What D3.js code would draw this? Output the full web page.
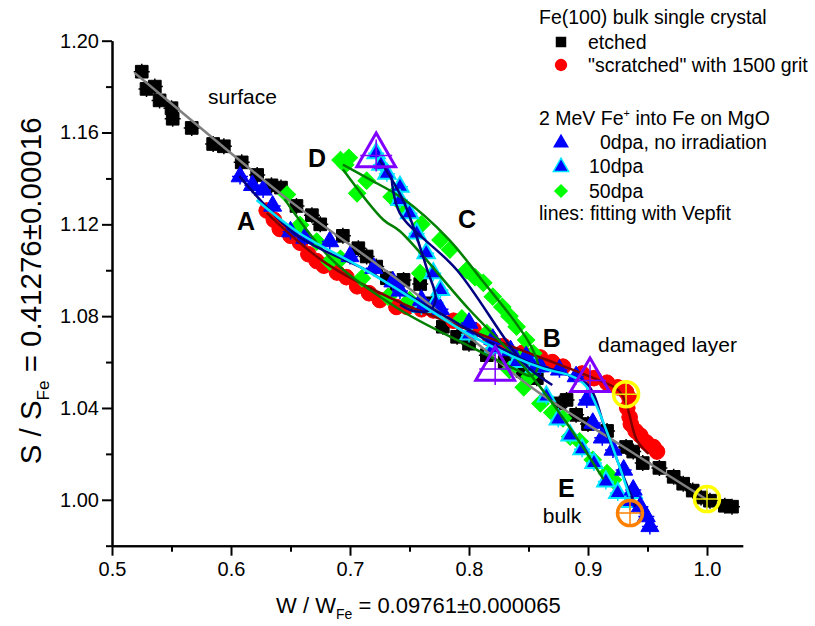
<!DOCTYPE html>
<html>
<head>
<meta charset="utf-8">
<script src="https://cdn.jsdelivr.net/npm/d3@7"></script>
<style>
  body { margin: 0; background: #fff; }
  svg text { font-family: "Liberation Sans", Arial, sans-serif; }
</style>
</head>
<body>
<div id="chart"></div>
<script>
// S-W plot of positron annihilation, Fe samples

// Axis ranges and ticks
const xDomain = [0.5, 1.03];
const yDomain = [0.98, 1.20];
const xMajor = [0.5, 0.6, 0.7, 0.8, 0.9, 1.0];
const xMinor = [0.55, 0.65, 0.75, 0.85, 0.95];
const yMajor = [1.00, 1.04, 1.08, 1.12, 1.16, 1.20];
const yMinor = [0.98, 1.02, 1.06, 1.10, 1.14, 1.18];

// Fe(100) bulk, etched (black squares)
const etched = [
  [0.525, 1.1865], [0.529, 1.179], [0.536, 1.180], [0.540, 1.174], [0.550, 1.1706], [0.551, 1.166],
  [0.567, 1.162], [0.585, 1.155], [0.594, 1.154], [0.609, 1.147], [0.622, 1.1415], [0.634, 1.137],
  [0.642, 1.136], [0.655, 1.128], [0.668, 1.124], [0.675, 1.120], [0.694, 1.115], [0.707, 1.1096],
  [0.714, 1.106], [0.722, 1.1016], [0.731, 1.0965], [0.739, 1.094], [0.745, 1.0958], [0.759, 1.094],
  [0.769, 1.0856], [0.778, 1.0754], [0.790, 1.071], [0.800, 1.068], [0.815, 1.063], [0.830, 1.060],
  [0.845, 1.056], [0.857, 1.053], [0.876, 1.042], [0.882, 1.0435], [0.890, 1.037], [0.900, 1.033],
  [0.916, 1.030], [0.932, 1.023], [0.938, 1.021], [0.946, 1.016], [0.960, 1.0139], [0.972, 1.010],
  [0.980, 1.007], [0.988, 1.004], [0.995, 1.001], [1.0025, 0.9996], [1.015, 0.9974], [1.021, 0.9970]
];

// Fe(100) bulk, "scratched" (red circles)
const scratched = [
  [0.630, 1.126], [0.636, 1.122], [0.641, 1.118], [0.650, 1.115], [0.658, 1.112], [0.665, 1.107],
  [0.672, 1.104], [0.678, 1.102], [0.689, 1.099], [0.697, 1.097], [0.706, 1.093], [0.716, 1.090],
  [0.725, 1.087], [0.739, 1.084], [0.748, 1.084], [0.760, 1.083], [0.770, 1.0825], [0.787, 1.078],
  [0.804, 1.074], [0.818, 1.070], [0.829, 1.067], [0.845, 1.064], [0.860, 1.062], [0.870, 1.060],
  [0.879, 1.058], [0.895, 1.055], [0.905, 1.053], [0.916, 1.051], [0.925, 1.049], [0.932, 1.047],
  [0.935, 1.044], [0.933, 1.040], [0.935, 1.036], [0.936, 1.033], [0.940, 1.030], [0.944, 1.028],
  [0.949, 1.025], [0.955, 1.023], [0.958, 1.021]
];

// 2 MeV Fe+ into Fe on MgO, 0 dpa (blue triangles)
const dpa0 = [
  [0.6076, 1.1408], [0.618, 1.137], [0.627, 1.135], [0.635, 1.128], [0.650, 1.1168], [0.662, 1.114],
  [0.683, 1.1125], [0.700, 1.106], [0.720, 1.1009], [0.736, 1.095], [0.742, 1.091], [0.760, 1.087],
  [0.776, 1.083], [0.800, 1.077], [0.820, 1.070], [0.835, 1.065], [0.848, 1.0624], [0.860, 1.058],
  [0.876, 1.0566], [0.890, 1.0537], [0.899, 1.0435], [0.904, 1.0334], [0.912, 1.027], [0.921, 1.0217],
  [0.930, 1.013], [0.938, 1.0043], [0.944, 0.997], [0.949, 0.9927], [0.952, 0.9884]
];

// 10 dpa (blue triangles, cyan edge)
const dpa10 = [
  [0.722, 1.151], [0.726, 1.146], [0.731, 1.142], [0.742, 1.1364], [0.742, 1.1306], [0.750, 1.1248],
  [0.756, 1.116], [0.764, 1.1074], [0.770, 1.0987], [0.776, 1.0914], [0.772, 1.086], [0.760, 1.084],
  [0.800, 1.072], [0.820, 1.066], [0.840, 1.060], [0.855, 1.058], [0.865, 1.045], [0.875, 1.035],
  [0.885, 1.028], [0.895, 1.022], [0.905, 1.016], [0.915, 1.008], [0.925, 1.003], [0.935, 0.999],
  [0.938, 1.003]
];

// 50 dpa (green diamonds)
const dpa50 = [
  [0.692, 1.148], [0.696, 1.146], [0.699, 1.149], [0.706, 1.1335], [0.714, 1.139], [0.735, 1.132],
  [0.745, 1.128], [0.760, 1.120], [0.776, 1.1132], [0.784, 1.109], [0.798, 1.100], [0.805, 1.097],
  [0.812, 1.0945], [0.820, 1.0885], [0.828, 1.084], [0.834, 1.080], [0.840, 1.0754], [0.848, 1.0696],
  [0.854, 1.0638], [0.851, 1.0537], [0.846, 1.049], [0.860, 1.042], [0.870, 1.038], [0.879, 1.0355],
  [0.885, 1.0275], [0.893, 1.0254], [0.904, 1.0174], [0.916, 1.0116], [0.921, 1.0087],
  [0.647, 1.133], [0.658, 1.1197], [0.672, 1.1125], [0.683, 1.1037], [0.692, 1.105], [0.710, 1.0965],
  [0.732, 1.0885], [0.750, 1.087], [0.759, 1.0987], [0.794, 1.079], [0.815, 1.0726], [0.834, 1.0566],
  [0.842, 1.062]
];

// Vepfit fitting curves
const fitEtched = [[0.519, 1.186], [0.600, 1.151], [0.650, 1.130], [0.745, 1.094], [0.800, 1.071], [0.855, 1.048], [0.930, 1.023], [1.0, 1.0]];
const fitScratched = [[0.630, 1.125], [0.680, 1.103], [0.742, 1.086], [0.800, 1.074], [0.860, 1.062], [0.900, 1.054], [0.925, 1.048], [0.932, 1.042], [0.941, 1.026], [0.951, 1.020]];
const fitDpa0 = [[0.607, 1.141], [0.655, 1.1154], [0.714, 1.100], [0.736, 1.093], [0.780, 1.080], [0.820, 1.068], [0.850, 1.060], [0.880, 1.055], [0.900, 1.050], [0.915, 1.030], [0.930, 1.010], [0.940, 0.997]];
const fitDpa10a = [[0.6215, 1.1306], [0.658, 1.116], [0.708, 1.1016], [0.739, 1.092], [0.798, 1.0726], [0.837, 1.0624], [0.862, 1.0573], [0.887, 1.0537], [0.899, 1.049], [0.935, 1.0014]];
const fitDpa10b = [[0.725, 1.148], [0.745, 1.130], [0.765, 1.100], [0.772, 1.088], [0.768, 1.083], [0.755, 1.082], [0.742, 1.085]];
const fitDpa10c = [[0.735, 1.140], [0.742, 1.1248], [0.790, 1.100], [0.846, 1.0595], [0.870, 1.050]];
const fitDpa50a = [[0.645, 1.131], [0.685, 1.1045], [0.742, 1.0828], [0.800, 1.067], [0.840, 1.0566], [0.852, 1.054], [0.858, 1.058], [0.852, 1.067], [0.838, 1.078], [0.812, 1.095], [0.782, 1.114], [0.745, 1.131], [0.715, 1.140], [0.694, 1.146]];
const fitDpa50b = [[0.694, 1.144], [0.728, 1.122], [0.742, 1.117], [0.800, 1.083], [0.846, 1.058], [0.880, 1.035], [0.913, 1.009]];

// Layer (S,W) markers
const layerTriangles = [[0.722, 1.150], [0.822, 1.057], [0.9017, 1.052]];
const yellowRings = [[0.932, 1.046], [1.0, 1.0003]];
const orangeRings = [[0.9353, 0.9942]];

// Annotations
const letters = [["A", 0.605, 1.1176], ["B", 0.862, 1.0666], ["C", 0.7908, 1.1184], ["D", 0.6647, 1.145], ["E", 0.8748, 1.0013]];
const words = [["surface", 0.5807, 1.1724], ["damaged layer", 0.9084, 1.0645], ["bulk", 0.862, 0.990]];

const margin = {left: 112, top: 40.7, right: 72.3, bottom: 80.3};
const W = 815, H = 626;
const width = W - margin.left - margin.right;
const height = H - margin.top - margin.bottom;

const svg = d3.select("#chart").append("svg")
  .attr("width", W)
  .attr("height", H);
const g = svg.append("g")
  .attr("transform", "translate(" + margin.left + "," + margin.top + ")");

const x = d3.scaleLinear().domain(xDomain).range([0, width]);
const y = d3.scaleLinear().domain(yDomain).range([height, 0]);

// Axes: major ticks with labels, minor ticks without
function styleAxis(sel) {
  sel.selectAll("path").attr("stroke", "#000").attr("stroke-width", 2);
  sel.selectAll("line").attr("stroke", "#000").attr("stroke-width", 2);
  sel.selectAll("text").attr("font-size", 20).attr("fill", "#000")
     .style("font-family", "'Liberation Sans', Arial, sans-serif");
}
g.append("g").attr("transform", "translate(0," + height + ")")
  .call(d3.axisBottom(x).tickValues(xMinor).tickSize(6).tickFormat("").tickSizeOuter(0))
  .call(styleAxis);
g.append("g").attr("transform", "translate(0," + height + ")")
  .call(d3.axisBottom(x).tickValues(xMajor).tickSize(10).tickPadding(6).tickFormat(d3.format(".1f")).tickSizeOuter(0))
  .call(styleAxis);
g.append("g")
  .call(d3.axisLeft(y).tickValues(yMinor).tickSize(6).tickFormat("").tickSizeOuter(0))
  .call(styleAxis);
g.append("g")
  .call(d3.axisLeft(y).tickValues(yMajor).tickSize(10).tickPadding(3).tickFormat(d3.format(".2f")).tickSizeOuter(0))
  .call(styleAxis);

// Axis titles
const xt = svg.append("text")
  .attr("x", margin.left + x(0.7575)).attr("y", 613)
  .attr("text-anchor", "middle").attr("font-size", 22);
xt.append("tspan").text("W / W");
xt.append("tspan").attr("font-size", 14).attr("dy", 6).text("Fe");
xt.append("tspan").attr("dy", -6).text(" = 0.09761\u00b10.000065");

const yt = svg.append("text")
  .attr("transform", "translate(41," + (margin.top + y(1.091)) + ") rotate(-90)")
  .attr("text-anchor", "middle").attr("font-size", 29.5);
yt.append("tspan").text("S / S");
yt.append("tspan").attr("font-size", 17).attr("dy", 8).text("Fe");
yt.append("tspan").attr("dy", -8).text(" = 0.41276\u00b10.00016");

const line = d3.line().x(d => x(d[0])).y(d => y(d[1])).curve(d3.curveCatmullRom);

// Error bars to give the data points their fuzzy look
function drawSeries(data, color, symbol, size, rotate, stroke) {
  const grp = g.append("g");
  grp.selectAll("path.err").data(data).enter().append("path")
    .attr("d", d => "M" + (x(d[0]) - 8) + "," + y(d[1]) + "h16M" + x(d[0]) + "," + (y(d[1]) - 8) + "v16")
    .attr("stroke", stroke || color).attr("stroke-width", 1.5);
  grp.selectAll("path.pt").data(data).enter().append("path")
    .attr("d", d3.symbol().type(symbol).size(size))
    .attr("transform", d => "translate(" + x(d[0]) + "," + y(d[1]) + ") rotate(" + rotate + ")")
    .attr("fill", color)
    .attr("stroke", stroke || color).attr("stroke-width", stroke ? 2 : 1);
}

drawSeries(etched, "#000", d3.symbolSquare, 160, 0);
drawSeries(scratched, "#ff0000", d3.symbolCircle, 190, 0);
drawSeries(dpa50, "#00ff00", d3.symbolSquare, 150, 45);
drawSeries(dpa10, "#0000ff", d3.symbolTriangle, 130, 0, "#00e5ff");
drawSeries(dpa0, "#0000ff", d3.symbolTriangle, 140, 0);

// Fit lines
const fits = [
  [fitEtched, "#808080"], [fitScratched, "#800000"],
  [fitDpa50a, "#008000"], [fitDpa50b, "#008000"],
  [fitDpa0, "#000080"], [fitDpa10b, "#000080"], [fitDpa10c, "#000080"],
  [fitDpa10a, "#00e5ff"]
];
fits.forEach(function (f) {
  g.append("path").datum(f[0]).attr("d", line)
    .attr("fill", "none").attr("stroke", f[1]).attr("stroke-width", 2.5);
});

// Layer markers with cross hairs
function crossHair(data, color, r) {
  g.selectAll(null).data(data).enter().append("path")
    .attr("d", d => "M" + (x(d[0]) - r) + "," + y(d[1]) + "h" + 2 * r + "M" + x(d[0]) + "," + (y(d[1]) - r) + "v" + 2 * r)
    .attr("stroke", color).attr("stroke-width", 1.5);
}
crossHair(layerTriangles, "#8000ff", 16);
g.selectAll(null).data(layerTriangles).enter().append("path")
  .attr("d", d3.symbol().type(d3.symbolTriangle).size(650))
  .attr("transform", d => "translate(" + x(d[0]) + "," + y(d[1]) + ")")
  .attr("fill", "none").attr("stroke", "#8000ff").attr("stroke-width", 3);
crossHair(yellowRings, "#e8e800", 12);
g.selectAll(null).data(yellowRings).enter().append("circle")
  .attr("cx", d => x(d[0])).attr("cy", d => y(d[1])).attr("r", 12.5)
  .attr("fill", "none").attr("stroke", "#ffff00").attr("stroke-width", 3.5);
crossHair(orangeRings, "#ff8000", 12);
g.selectAll(null).data(orangeRings).enter().append("circle")
  .attr("cx", d => x(d[0])).attr("cy", d => y(d[1])).attr("r", 12.5)
  .attr("fill", "none").attr("stroke", "#ff8000").attr("stroke-width", 3.5);

// Labels on the plot
g.selectAll(null).data(letters).enter().append("text")
  .attr("x", d => x(d[1])).attr("y", d => y(d[2]))
  .attr("font-size", 25).attr("font-weight", "bold").text(d => d[0]);
g.selectAll(null).data(words).enter().append("text")
  .attr("x", d => x(d[1])).attr("y", d => y(d[2]))
  .attr("font-size", 21).text(d => d[0]);

// Legend
const legend = svg.append("g").attr("font-size", 19.5);
legend.append("text").attr("x", 539).attr("y", 24).text("Fe(100) bulk single crystal");
legend.append("path").attr("d", d3.symbol().type(d3.symbolSquare).size(110)).attr("transform", "translate(561,42)");
legend.append("text").attr("x", 588).attr("y", 49).text("etched");
legend.append("path").attr("d", d3.symbol().type(d3.symbolCircle).size(120)).attr("transform", "translate(561,65)").attr("fill", "#ff0000");
legend.append("text").attr("x", 588).attr("y", 72).text("\"scratched\" with 1500 grit");
const t2 = legend.append("text").attr("x", 539).attr("y", 125);
t2.append("tspan").text("2 MeV Fe");
t2.append("tspan").attr("font-size", 11).attr("dy", -8).text("+");
t2.append("tspan").attr("dy", 8).text(" into Fe on MgO");
legend.append("path").attr("d", d3.symbol().type(d3.symbolTriangle).size(110)).attr("transform", "translate(561,143)").attr("fill", "#0000ff");
legend.append("text").attr("x", 600).attr("y", 149).text("0dpa, no irradiation");
legend.append("path").attr("d", d3.symbol().type(d3.symbolTriangle).size(100)).attr("transform", "translate(561,167)")
  .attr("fill", "#0000ff").attr("stroke", "#00e5ff").attr("stroke-width", 1.5);
legend.append("text").attr("x", 589).attr("y", 173).text("10dpa");
legend.append("path").attr("d", d3.symbol().type(d3.symbolSquare).size(100)).attr("transform", "translate(561,191) rotate(45)").attr("fill", "#00ff00");
legend.append("text").attr("x", 589).attr("y", 198).text("50dpa");
legend.append("text").attr("x", 539).attr("y", 220).text("lines: fitting with Vepfit");
</script>
</body>
</html>
